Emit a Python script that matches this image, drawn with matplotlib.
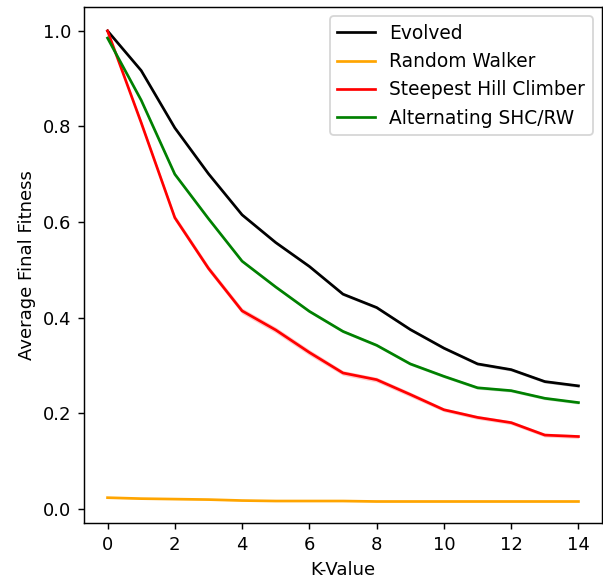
import matplotlib
matplotlib.use("Agg")
import matplotlib.pyplot as plt
import numpy as np

k_values = list(range(15))

evolved = [1.000, 0.917, 0.797, 0.701, 0.615, 0.557, 0.507, 0.449, 0.421, 0.375, 0.336, 0.303, 0.291, 0.266, 0.257]
random_walker = [0.023, 0.021, 0.020, 0.019, 0.017, 0.016, 0.016, 0.016, 0.015, 0.015, 0.015, 0.015, 0.015, 0.015, 0.015]
steepest = [1.000, 0.808, 0.609, 0.503, 0.414, 0.374, 0.327, 0.284, 0.270, 0.239, 0.207, 0.191, 0.180, 0.154, 0.151]
alternating = [0.985, 0.855, 0.700, 0.607, 0.518, 0.464, 0.413, 0.371, 0.342, 0.303, 0.277, 0.253, 0.247, 0.231, 0.222]

evolved_ci = [0.002, 0.003, 0.003, 0.003, 0.003, 0.003, 0.003, 0.003, 0.003, 0.003, 0.003, 0.003, 0.003, 0.003, 0.003]
random_ci = [0.001, 0.001, 0.001, 0.001, 0.001, 0.001, 0.001, 0.001, 0.001, 0.001, 0.001, 0.001, 0.001, 0.001, 0.001]
steepest_ci = [0.002, 0.005, 0.006, 0.006, 0.006, 0.006, 0.006, 0.005, 0.005, 0.005, 0.004, 0.004, 0.004, 0.004, 0.004]
alternating_ci = [0.002, 0.003, 0.003, 0.003, 0.003, 0.003, 0.003, 0.003, 0.003, 0.003, 0.003, 0.003, 0.003, 0.003, 0.003]

labels = ["Evolved", "Random Walker", "Steepest Hill Climber", "Alternating SHC/RW"]
colors = ["black", "orange", "red", "green"]
series = [evolved, random_walker, steepest, alternating]
cis = [evolved_ci, random_ci, steepest_ci, alternating_ci]

dpi = 130
fig = plt.figure(figsize=(603 / dpi, 584 / dpi), dpi=dpi)
ax = fig.add_axes([84 / 603, 1 - 523 / 584, (602 - 84) / 603, (523 - 7) / 584])

x = np.array(k_values)
for lab, col, s, c in zip(labels, colors, series, cis):
    s = np.array(s)
    c = np.array(c)
    ax.fill_between(x, s - c, s + c, color=col, alpha=0.2, linewidth=0)
    ax.plot(x, s, color=col, label=lab, linewidth=1.5)

ax.set_xlim(-0.7, 14.7)
ax.set_ylim(-0.03, 1.05)
ax.set_xticks(range(0, 15, 2))
ax.set_xlabel("K-Value")
ax.set_ylabel("Average Final Fitness")
ax.legend(loc="upper right", fontsize=10.3)

fig.savefig("out.png", dpi=dpi)
